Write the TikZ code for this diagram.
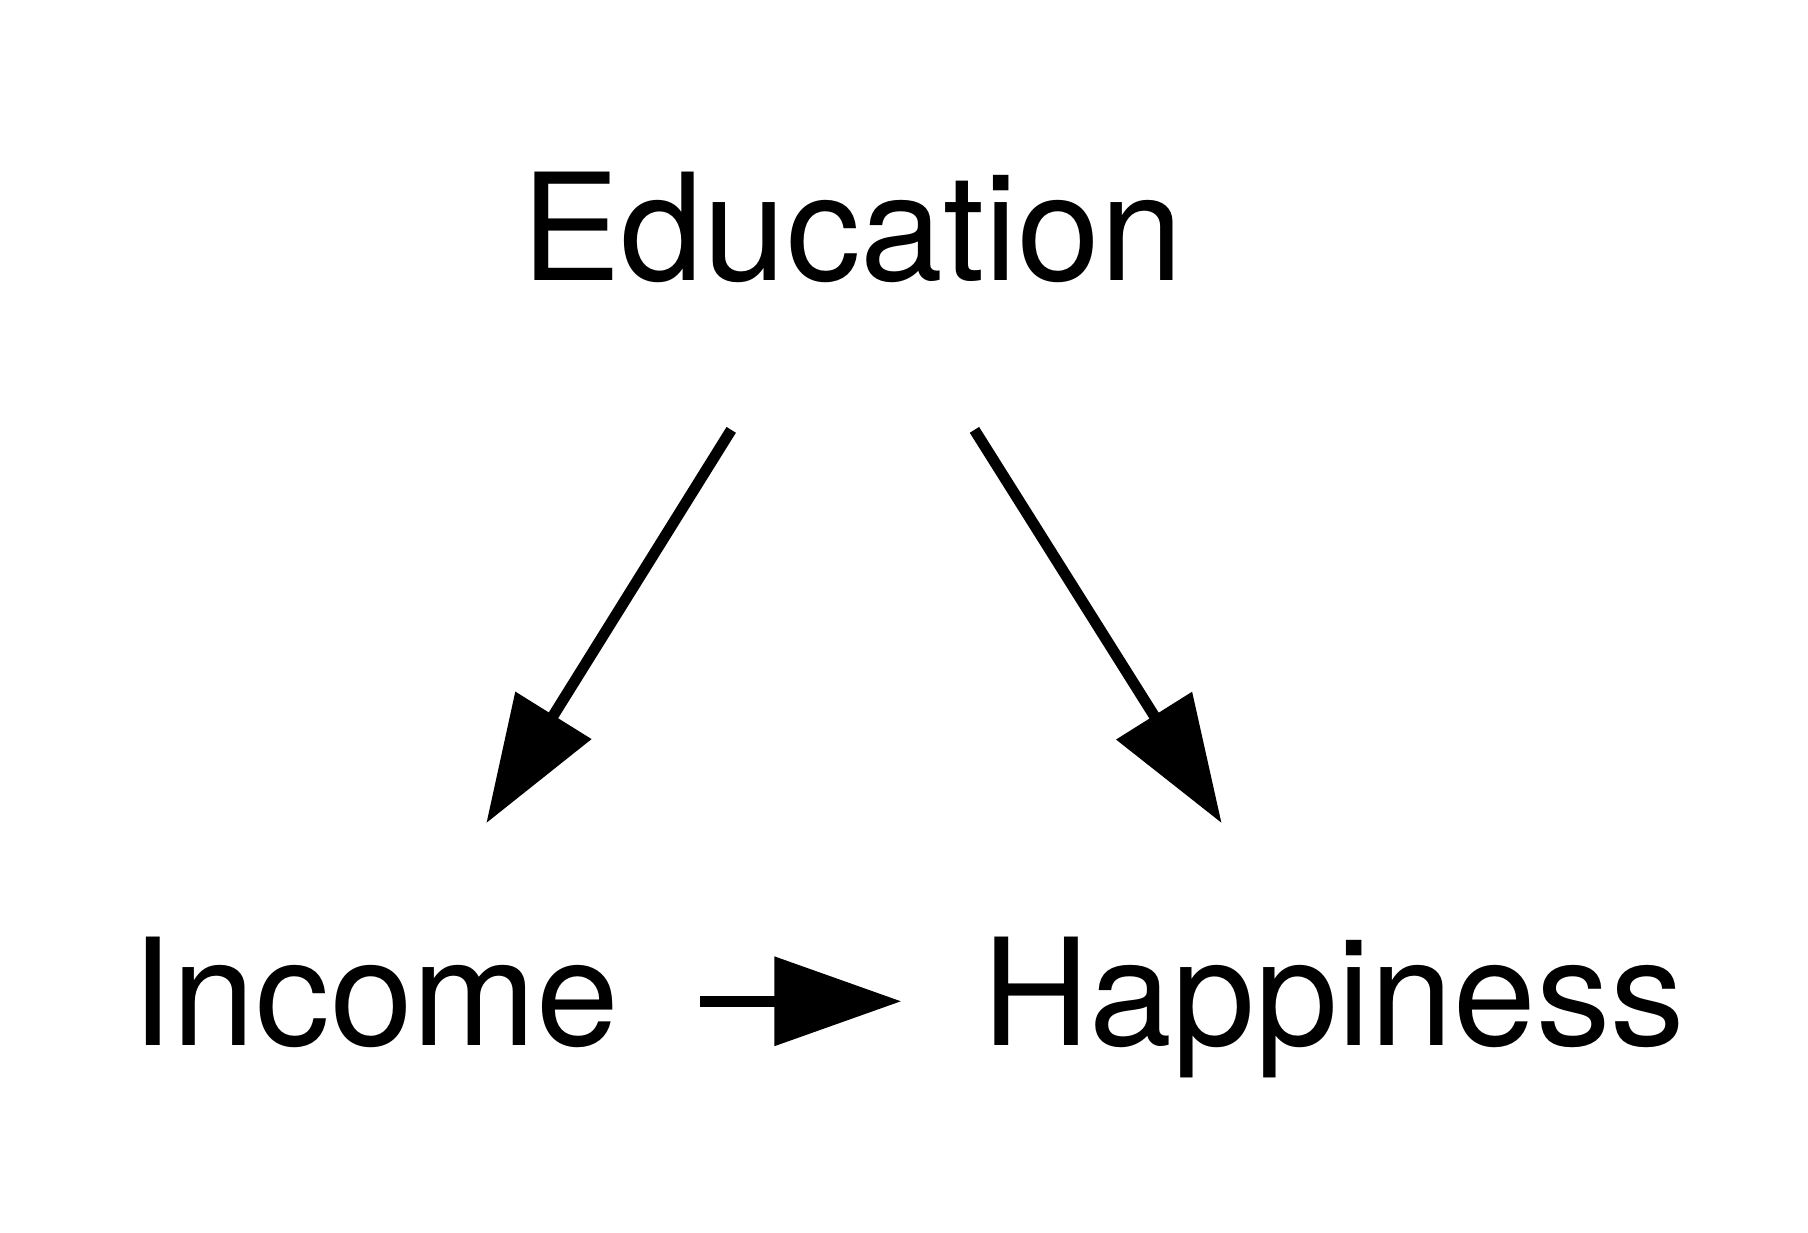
\documentclass[tikz,border=0pt]{standalone}
\usepackage{fontspec}
\setmainfont{TeX Gyre Heros}
\usetikzlibrary{arrows.meta}

\begin{document}
\begin{tikzpicture}[
    var/.style={rectangle, inner xsep=20pt, inner ysep=0pt, minimum height=88.7pt,
        text height=22.3pt, text depth=0pt, font=\fontsize{37.2}{44}\selectfont},
    causal/.style={line width=2.75pt, -{Triangle[length=31.75pt, width=21.7pt]}}
]
    \useasboundingbox (0,0) rectangle (15.89,10.83);

    \node[var, minimum height=96.8pt] (edu) at (7.49,8.76) {Education};
    \node[var] (inc) at (3.30,2.03) {Income};
    \node[var] (hap) at (11.72,2.03) {Happiness};

    \draw[causal] (edu) -- (inc);
    \draw[causal] (edu) -- (hap);
    \draw[causal] (inc) -- (hap);
\end{tikzpicture}
\end{document}
